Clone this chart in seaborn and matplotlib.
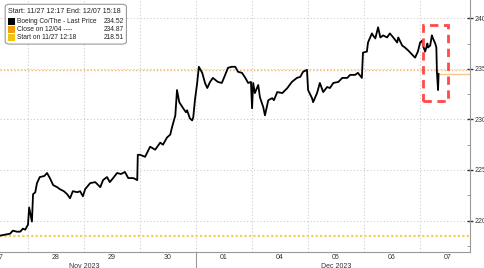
import pandas as pd
import seaborn as sns
import matplotlib.pyplot as plt
from matplotlib.patches import Rectangle, FancyBboxPatch

# Boeing intraday, x in trading-day units (0 = Mon 11/27 session centre)
t = [0.00, 0.09, 0.18, 0.23, 0.30, 0.36, 0.41, 0.45, 0.48, 0.50,
     0.52, 0.57, 0.59, 0.63, 0.66, 0.71, 0.79, 0.84, 0.89, 0.95,
     1.02, 1.07, 1.14, 1.20, 1.25, 1.30, 1.38, 1.43, 1.48, 1.52,
     1.61, 1.70, 1.79, 1.84, 1.91, 1.96, 2.02, 2.09, 2.16, 2.23,
     2.29, 2.38, 2.45, 2.46, 2.50, 2.59, 2.68, 2.77, 2.86, 2.91,
     2.98, 3.04, 3.07, 3.13, 3.16, 3.20, 3.27, 3.32, 3.34, 3.39,
     3.43, 3.45, 3.48, 3.52, 3.55, 3.61, 3.66, 3.70, 3.75, 3.80,
     3.89, 3.96, 4.02, 4.07, 4.14, 4.20, 4.25, 4.32, 4.38, 4.43,
     4.48, 4.50, 4.52, 4.55, 4.61, 4.64, 4.70, 4.73, 4.79, 4.86,
     4.89, 4.95, 5.04, 5.13, 5.21, 5.30, 5.36, 5.41, 5.48, 5.50,
     5.57, 5.59, 5.66, 5.71, 5.77, 5.84, 5.89, 5.95, 6.04, 6.11,
     6.20, 6.25, 6.34, 6.39, 6.46, 6.48, 6.55, 6.57, 6.64, 6.66,
     6.70, 6.75, 6.79, 6.84, 6.91, 6.96, 7.02, 7.09, 7.11, 7.18,
     7.23, 7.29, 7.36, 7.41, 7.46, 7.50, 7.54, 7.55, 7.59, 7.63,
     7.64, 7.68, 7.71, 7.73, 7.77, 7.79, 7.80, 7.82, 7.83]
price = [218.51, 218.6, 218.7, 219.0, 218.9, 218.9, 219.2, 219.1, 219.4, 219.6,
         221.3, 219.9, 222.6, 222.8, 223.7, 224.3, 224.4, 224.7, 224.2, 223.5,
         223.3, 223.1, 222.9, 222.6, 222.2, 222.9, 222.8, 222.9, 222.4, 223.1,
         223.7, 223.8, 223.3, 224.0, 224.3, 223.8, 224.2, 224.7, 224.6, 224.8,
         224.2, 224.2, 224.0, 226.5, 226.5, 226.3, 227.3, 227.0, 227.7, 227.5,
         228.2, 228.5, 229.2, 230.4, 232.9, 231.7, 231.1, 230.7, 230.9, 230.1,
         229.9, 230.2, 231.9, 233.6, 235.2, 234.6, 233.6, 233.1, 233.7, 234.1,
         233.7, 233.6, 234.4, 235.1, 235.2, 235.2, 234.7, 234.6, 234.1, 233.6,
         233.7, 231.1, 233.6, 232.6, 233.4, 232.2, 231.2, 230.4, 231.9, 232.1,
         231.9, 232.7, 232.6, 233.1, 233.7, 234.1, 234.2, 234.7, 234.9, 232.9,
         232.1, 231.7, 232.6, 233.6, 232.7, 233.2, 233.1, 233.6, 233.7, 234.1,
         234.1, 234.4, 234.4, 234.6, 234.1, 236.6, 236.7, 237.6, 238.5, 238.3,
         238.0, 239.1, 238.1, 238.3, 238.1, 238.5, 238.1, 237.6, 238.1, 237.3,
         237.1, 236.8, 236.4, 236.1, 236.7, 237.6, 237.8, 237.3, 236.7, 237.5,
         237.1, 237.3, 238.3, 238.0, 237.5, 237.1, 234.7, 232.9, 234.52]

day_labels = ['27', '28', '29', '30', '01', '04', '05', '06', '07']
month_labels = ['Nov 2023', 'Dec 2023']
month_spans = [(0, 3), (4, 8)]
last_price = 234.52
close_1204 = 234.87
start_price = 218.51
y_ticks = [220, 225, 230, 235, 240]

df = pd.DataFrame({'t': t, 'price': price})

sns.set_style('white')
plt.rcParams['font.family'] = ['Liberation Sans', 'DejaVu Sans']

fig = plt.figure(figsize=(4.85, 2.68), dpi=100)
ax = fig.add_axes([0, 0.06, 0.969, 0.94])

sns.lineplot(data=df, x='t', y='price', color='black', lw=1.3, ax=ax,
             estimator=None, sort=False)

ax.axhline(close_1204, color='#f2b870', lw=1.0, ls=(0, (1, 1.5)), zorder=1)
ax.axhline(start_price, color='#f0d060', lw=1.6, ls=(0, (1, 1)), zorder=1)
ax.hlines(last_price, t[-1], 8.39, color='#f5c98c', lw=1.0, zorder=1)

ax.set_xlim(0, 8.39)
ax.set_ylim(216.9, 241.8)

ax.yaxis.tick_right()
ax.set_yticks(y_ticks)
ax.set_yticks([y + 2.5 for y in y_ticks[:-1]] + [217.5], minor=True)
ax.tick_params(axis='y', which='major', direction='inout', length=4, width=1,
               color='#333333', labelsize=5, pad=1, labelcolor='#333333')
ax.tick_params(axis='y', which='minor', direction='in', length=2, color='#888888')
ax.set_xticks(range(len(day_labels)))
ax.set_xticklabels(day_labels)
ax.tick_params(axis='x', length=0, labelsize=5, pad=1.5, colors='#333333')
ax.set_xlabel('')
ax.set_ylabel('')

# grid
for y in y_ticks:
    ax.axhline(y, color='#cccccc', lw=0.8, ls=(0, (1, 2)), zorder=0)
for k in range(len(day_labels) - 1):
    ax.axvline(k + 0.5, color='#cccccc', lw=0.8, ls=(0, (1, 2)), zorder=0)

for s in ['left', 'top']:
    ax.spines[s].set_visible(False)
for s in ['right', 'bottom']:
    ax.spines[s].set_color('#999999')

# month labels and separator
for lab, (a, b) in zip(month_labels, month_spans):
    ax.text((a + b) / 2, -0.042, lab, transform=ax.get_xaxis_transform(),
            ha='center', va='top', fontsize=5, color='#333333')
ax.plot([3.5, 3.5], [0, -0.07], transform=ax.get_xaxis_transform(),
        color='#999999', lw=0.8, clip_on=False)

# highlight box
ax.add_patch(Rectangle((7.55, 231.8), 0.44, 7.5, fill=False, ec='#ff4a4a',
                       lw=2, ls=(0, (3, 2)), zorder=5))

# legend box
ax.add_patch(FancyBboxPatch((0.011, 0.825), 0.258, 0.158, transform=ax.transAxes,
                            boxstyle='round,pad=0,rounding_size=0.01',
                            fc='white', ec='#999999', lw=0.8, zorder=6))
ax.text(0.018, 0.953, 'Start: 11/27 12:17 End: 12/07 15:18', transform=ax.transAxes,
        fontsize=5.1, va='center', color='#222222', zorder=7)
rows = [('black', 'Boeing Co/The - Last Price', last_price),
        ('#f39c12', 'Close on 12/04 ----', close_1204),
        ('#f1c40f', 'Start on 11/27 12:18', start_price)]
for i, (c, lab, v) in enumerate(rows):
    yy = 0.915 - i * 0.031
    ax.add_patch(Rectangle((0.018, yy - 0.014), 0.014, 0.028, transform=ax.transAxes,
                           fc=c, ec='none', zorder=7))
    ax.text(0.036, yy, lab, transform=ax.transAxes, fontsize=4.8, va='center',
            color='#222222', zorder=7)
    ax.text(0.264, yy, f'{v:.2f}', transform=ax.transAxes, fontsize=4.8, va='center',
            ha='right', color='#222222', zorder=7)

fig.savefig('out.png', dpi=100)
